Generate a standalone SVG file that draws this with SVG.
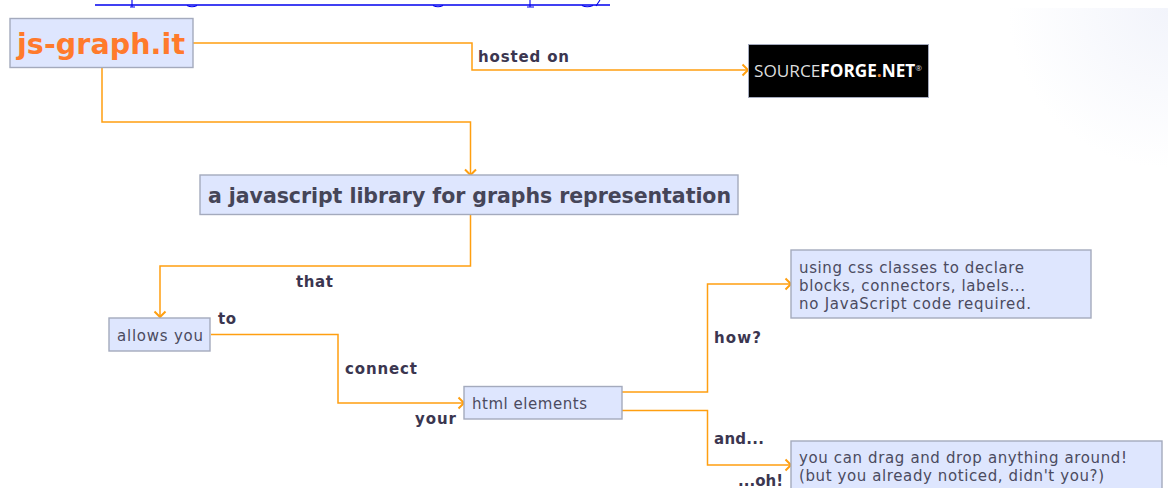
<svg xmlns="http://www.w3.org/2000/svg" width="1168" height="488" viewBox="0 0 1168 488">
<style>
.b{fill:#dee6fe;stroke:#a4aabd;stroke-width:1.4}
.c{fill:none;stroke:#ff9f10;stroke-width:1.5}
text{font-family:"DejaVu Sans",Verdana,sans-serif}
.t{font-size:15px;fill:#4b4b60}
.l{font-size:15px;font-weight:bold;fill:#3b3650}
</style>
<defs>
<marker id="a" markerUnits="userSpaceOnUse" markerWidth="14" markerHeight="14" refX="11" refY="7" orient="auto"><path d="M5.500 1.500L11 7L5.500 12.500" fill="none" stroke="#ff9f10" stroke-width="2"/></marker>
<radialGradient id="g" gradientUnits="userSpaceOnUse" cx="1168" cy="8" r="160"><stop offset="0" stop-color="#f2f4fb"/><stop offset="1" stop-color="#fff"/></radialGradient>
</defs>
<rect x="1008" y="8" width="160" height="160" fill="url(#g)"/>
<path d="M95 5H610" stroke="#0000ee" stroke-width="1.5"/>
<path d="M132 0V7M130 7H135M187 5.500Q192 8 197 5.500M433 5.500Q438 8 443 5.500M530 0V7M527 7H534M582 5.500Q587 8 593 5.500M600 0L596 6" fill="none" stroke="#0000ee" stroke-width="1.1"/>
<g id="connectors">
<path class="c" d="M193 43H472V70H748" marker-end="url(#a)"/>
<path class="c" d="M102 68V122H470.500V175" marker-end="url(#a)"/>
<path class="c" d="M470.500 215V266H160V317" marker-end="url(#a)"/>
<path class="c" d="M211 334.500H338V403H464" marker-end="url(#a)"/>
<path class="c" d="M622 392H707.500V284H791" marker-end="url(#a)"/>
<path class="c" d="M622 410.500H707.500V465H791" marker-end="url(#a)"/>
</g>
<g id="js-graph"><rect class="b" x="10" y="18.500" width="183" height="49"/><text x="17" y="54" font-size="28.500" font-weight="bold" fill="#ff7a2c" textLength="168">js-graph.it</text></g>
<g id="sourceforge"><rect x="748.500" y="44.500" width="180" height="53" fill="#000" stroke="#a4aabd" stroke-width="1"/><text x="754" y="77" font-size="17" fill="#ddd" textLength="168" lengthAdjust="spacingAndGlyphs" style="font-family:'Open Sans',sans-serif">SOURCE<tspan font-weight="bold" fill="#fff">FORGE<tspan fill="#e8781e">.</tspan>NET</tspan><tspan font-size="8" dy="-6" fill="#ddd">®</tspan></text></g>
<g id="library"><rect class="b" x="200" y="175" width="538" height="39.500"/><text x="208" y="203" font-size="20.500" font-weight="bold" fill="#454558" textLength="523">a javascript library for graphs representation</text></g>
<g id="allows"><rect class="b" x="109" y="318" width="101" height="33"/><text class="t" x="117" y="340.500" textLength="86">allows you</text></g>
<g id="html"><rect class="b" x="464" y="386.500" width="158" height="32.500"/><text class="t" x="472" y="408.500" textLength="115">html elements</text></g>
<g id="css"><rect class="b" x="791" y="250" width="300" height="68"/><text class="t" x="799" y="272.500" textLength="225">using css classes to declare</text><text class="t" x="799" y="290.500" textLength="226">blocks, connectors, labels...</text><text class="t" x="799" y="308.500" textLength="232">no JavaScript code required.</text></g>
<g id="drag"><rect class="b" x="791" y="441" width="371" height="60"/><text class="t" x="799" y="463" textLength="328">you can drag and drop anything around!</text><text class="t" x="799" y="481" textLength="305">(but you already noticed, didn't you?)</text></g>
<g id="labels">
<text class="l" x="478" y="62" textLength="91">hosted on</text>
<text class="l" x="296" y="287" textLength="37">that</text>
<text class="l" x="218" y="324" textLength="18">to</text>
<text class="l" x="345" y="374" textLength="72">connect</text>
<text class="l" x="415" y="424" textLength="41">your</text>
<text class="l" x="714" y="343" textLength="47">how?</text>
<text class="l" x="714" y="444" textLength="50">and...</text>
<text class="l" x="738" y="486" textLength="45">...oh!</text>
</g>
</svg>
